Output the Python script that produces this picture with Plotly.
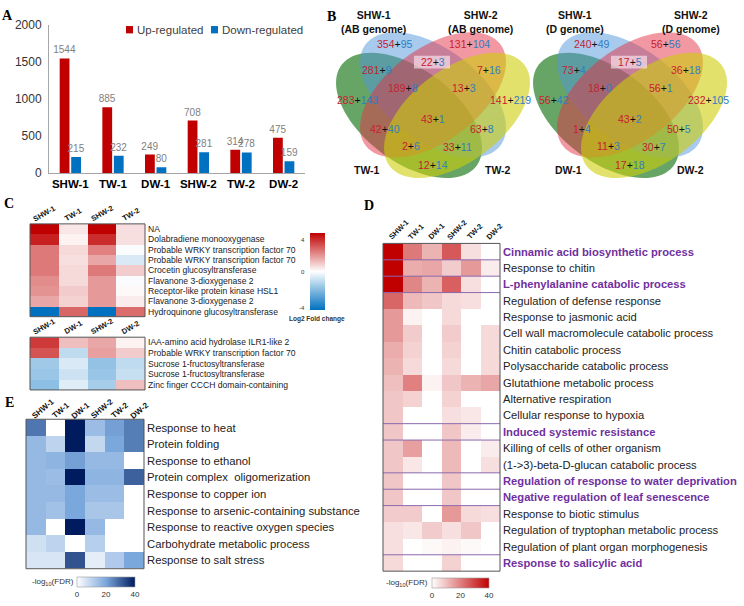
import math
import plotly.graph_objects as go

W, H = 744, 606
def fx(p): return p / W
def fy(p): return 1 - p / H

FONT = "Arial, Liberation Sans, sans-serif"
SERIF = "Times New Roman, Liberation Serif, serif"

# ---------------- Panel A data ----------------
samples = ["SHW-1", "TW-1", "DW-1", "SHW-2", "TW-2", "DW-2"]
up_regulated = [1544, 885, 249, 708, 314, 475]
down_regulated = [215, 232, 80, 281, 278, 159]
a_ticks = [0, 500, 1000, 1500, 2000]

# ---------------- Panel B data ----------------
venn_ab_sets = ["SHW-1<br>(AB genome)", "SHW-2<br>(AB genome)", "TW-1", "TW-2"]
venn_d_sets = ["SHW-1<br>(D genome)", "SHW-2<br>(D genome)", "DW-1", "DW-2"]
venn_ab_up = [354, 131, 22, 281, 7, 189, 13, 283, 141, 43, 42, 63, 2, 33, 12]
venn_ab_down = [95, 104, 3, 9, 16, 8, 3, 143, 219, 1, 40, 8, 6, 11, 14]
venn_d_up = [240, 56, 17, 73, 36, 18, 56, 56, 232, 43, 1, 50, 11, 30, 17]
venn_d_down = [49, 56, 5, 4, 18, 0, 1, 42, 105, 2, 4, 5, 3, 7, 18]

# ---------------- Panel C data ----------------
c1_cols = ["SHW-1", "TW-1", "SHW-2", "TW-2"]
c1_genes = ["NA", "Dolabradiene monooxygenase", "Probable WRKY transcription factor 70",
            "Probable WRKY transcription factor 70", "Crocetin glucosyltransferase",
            "Flavanone 3-dioxygenase 2", "Receptor-like protein kinase HSL1",
            "Flavanone 3-dioxygenase 2", "Hydroquinone glucosyltransferase"]
c1_lfc = [[4.0, 0.4, 4.0, 0.5],
          [3.5, 0.2, 3.3, 0.5],
          [2.1, 0.6, 2.0, -0.1],
          [2.1, 0.5, 1.4, -0.6],
          [2.1, 0.6, 2.1, 0.8],
          [1.8, 0.6, 1.6, -0.1],
          [1.7, 0.8, 1.6, 0.1],
          [1.4, 0.7, 1.6, 0.3],
          [-4.0, 2.4, -4.0, 2.3]]
c2_cols = ["SHW-1", "DW-1", "SHW-2", "DW-2"]
c2_genes = ["IAA-amino acid hydrolase ILR1-like 2", "Probable WRKY transcription factor 70",
            "Sucrose 1-fructosyltransferase", "Sucrose 1-fructosyltransferase",
            "Zinc finger CCCH domain-containing"]
c2_lfc = [[3.1, 1.0, 1.4, 0.2],
          [2.7, -1.0, 1.5, 0.8],
          [-1.5, -0.6, -1.7, -1.0],
          [-1.6, -0.8, -1.6, -0.9],
          [-1.8, -0.5, -1.4, 1.0]]
c_ticks = [4, 0, -4]

# ---------------- Panel D data ----------------
d_terms = ["Cinnamic acid biosynthetic process", "Response to chitin",
           "L-phenylalanine catabolic process", "Regulation of defense response",
           "Response to jasmonic acid", "Cell wall macromolecule catabolic process",
           "Chitin catabolic process", "Polysaccharide catabolic process",
           "Glutathione metabolic process", "Alternative respiration",
           "Cellular response to hypoxia", "Induced systemic resistance",
           "Killing of cells of other organism", "(1->3)-beta-D-glucan catabolic process",
           "Regulation of response to water deprivation", "Negative regulation of leaf senescence",
           "Response to biotic stimulus", "Regulation of tryptophan metabolic process",
           "Regulation of plant organ morphogenesis", "Response to salicylic acid"]
d_highlight = [0, 2, 11, 14, 15, 19]
d_fdr = [[40, 21, 12, 26, 5, 0],
         [40, 13, 14, 8, 16, 3],
         [40, 19, 12, 25, 5, 0],
         [24, 11, 9, 6, 5, 0],
         [16, 2, 0, 6, 0, 0],
         [16, 8, 0, 8, 0, 6],
         [13, 7, 0, 7, 0, 6],
         [12, 6, 0, 6, 0, 6],
         [10, 20, 2, 9, 12, 14],
         [9, 7, 0, 7, 0, 0],
         [9, 0, 0, 5, 4, 0],
         [9, 0, 0, 9, 3, 0],
         [9, 15, 0, 11, 0, 3],
         [9, 4, 0, 11, 0, 5],
         [9, 0, 0, 9, 0, 0],
         [9, 0, 0, 9, 0, 0],
         [8, 8, 0, 16, 6, 5],
         [5, 4, 8, 5, 9, 0],
         [5, 0, 1, 2, 1, 0],
         [6, 0, 0, 7, 0, 0]]

# ---------------- Panel E data ----------------
e_terms = ["Response to heat", "Protein folding", "Response to ethanol",
           "Protein complex  oligomerization", "Response to copper ion",
           "Response to arsenic-containing substance", "Response to reactive oxygen species",
           "Carbohydrate metabolic process", "Response to salt stress"]
e_fdr = [[27, 0, 40, 15, 21, 26],
         [16, 10, 40, 9, 20, 26],
         [16, 17, 21, 16, 16, 0],
         [16, 15, 40, 17, 17, 30],
         [16, 16, 20, 15, 15, 0],
         [16, 14, 20, 13, 13, 0],
         [16, 0, 40, 16, 0, 0],
         [7, 10, 0, 11, 0, 0],
         [6, 6, 32, 4, 12, 20]]
fdr_ticks = [0, 20, 40]

# ======================================================================
fig = go.Figure()
annotations = []
shapes = []

# ---------------- Panel A ----------------
RED, BLUE = "#C00000", "#0070C0"
for vals, col, nm in [(up_regulated, RED, "Up-regulated"), (down_regulated, BLUE, "Down-regulated")]:
    fig.add_trace(go.Bar(x=samples, y=vals, name=nm, marker=dict(color=col, line=dict(width=0)),
                         text=[str(v) for v in vals], textposition="outside", constraintext="none",
                         textfont=dict(size=10, color="#7F7F7F", family=FONT),
                         cliponaxis=False, xaxis="x", yaxis="y", showlegend=False, hoverinfo="skip"))

# manual legend
for (x0, col, label) in [(126, RED, "Up-regulated"), (211, BLUE, "Down-regulated")]:
    shapes.append(dict(type="rect", xref="paper", yref="paper", x0=fx(x0), x1=fx(x0 + 7),
                       y0=fy(27), y1=fy(19.5), fillcolor=col, line=dict(width=0)))
    annotations.append(dict(x=fx(x0 + 8.5), y=fy(23.5), xref="paper", yref="paper", text=label,
                            showarrow=False, xanchor="left", yanchor="middle",
                            font=dict(size=11.5, color="#404040", family=FONT)))

# ---------------- Panel B (Venn) ----------------
venn_region_off = [(-38, 38), (36, 38), (0, 56), (-56, 64), (56, 65), (-30, 83), (31, 83),
                   (-76, 95), (78, 95), (0, 115), (-48, 125), (49, 125), (-22, 142), (24, 143), (0, 162)]
ell_a, ell_b, ell_phi = 85, 47, 38
ellipse_styles = [  # dx, cy, sign of angle, colour, opacity
    (-24, 111, 1, "rgb(45,130,45)", 0.72),
    (0, 90, 1, "rgb(80,150,220)", 0.5),
    (0, 90, -1, "rgb(230,50,70)", 0.5),
    (24, 111, -1, "rgb(205,205,10)", 0.6),
]
VRED, VBLUE = "#C8202F", "#2E7DC3"

def ellipse_path(cx, cy, a, b, phi_deg, n=90):
    ph = math.radians(phi_deg)
    pts = []
    for i in range(n):
        t = 2 * math.pi * i / n
        x = cx + a * math.cos(t) * math.cos(ph) - b * math.sin(t) * math.sin(ph)
        y = cy + a * math.cos(t) * math.sin(ph) + b * math.sin(t) * math.cos(ph)
        pts.append(f"{fx(x):.5f},{fy(y):.5f}")
    return "M " + " L ".join(pts) + " Z"

venns = [
    (433, venn_ab_sets, venn_ab_up, venn_ab_down, [(-60, 0), (47, 0), (-66, 167), (65, 167)]),
    (630, venn_d_sets, venn_d_up, venn_d_down, [(-55, 0), (61, 0), (-62, 167), (60, 167)]),
]
for X, sets, ups, downs, lab_pos in venns:
    for dx, cy, sgn, col, op in ellipse_styles:
        shapes.append(dict(type="path", xref="paper", yref="paper",
                           path=ellipse_path(X + dx, cy, ell_a, ell_b, sgn * ell_phi),
                           fillcolor=col, opacity=op, line=dict(width=0)))
    shapes.append(dict(type="rect", xref="paper", yref="paper", x0=fx(X - 19), x1=fx(X + 17),
                       y0=fy(63), y1=fy(50), fillcolor="rgba(255,240,246,0.6)", line=dict(width=0)))
    for (ox, oy), u, d in zip(venn_region_off, ups, downs):
        txt = (f'<span style="color:{VRED}">{u}</span><span style="color:#111">+</span>'
               f'<span style="color:{VBLUE}">{d}</span>')
        annotations.append(dict(x=fx(X + ox), y=fy(oy), xref="paper", yref="paper", text=txt,
                                showarrow=False, xanchor="center", yanchor="middle",
                                font=dict(size=10.5, family=FONT)))
    for (ox, oy), s in zip(lab_pos, sets):
        annotations.append(dict(x=fx(X + ox), y=fy(oy), xref="paper", yref="paper",
                                text=f"<b>{s}</b>", showarrow=False, xanchor="center",
                                yanchor="top" if oy == 0 else "middle",
                                font=dict(size=10.5, color="#111", family=FONT)))

# ---------------- heatmap helpers ----------------
BOLD_W = {'S': 0.667, 'H': 0.722, 'W': 0.944, 'T': 0.611, 'D': 0.722, '-': 0.333, '1': 0.556, '2': 0.556}
def text_w(s, size):
    return sum(BOLD_W.get(c, 0.6) for c in s) * size

def col_labels(labels, x0, x1, yb, size, angle, mode):
    n = len(labels)
    cw = (x1 - x0) / n
    th = math.radians(angle)
    for i, lab in enumerate(labels):
        cc = x0 + cw * (i + 0.5)
        w = text_w(lab, size)
        h = size * 0.9
        cy = yb - (w * math.sin(th) + h * math.cos(th)) / 2
        cx = cc if mode == "center" else cc + (w * math.cos(th) - h * math.sin(th)) / 2
        annotations.append(dict(x=fx(cx), y=fy(cy), xref="paper", yref="paper", text=f"<b>{lab}</b>",
                                textangle=-angle, showarrow=False, xanchor="center", yanchor="middle",
                                font=dict(size=size, color="#111", family=FONT)))

def frame(ax_id, col="#555555"):
    shapes.append(dict(type="rect", xref=f"x{ax_id} domain", yref=f"y{ax_id} domain",
                       x0=0, x1=1, y0=0, y1=1, line=dict(color=col, width=1), fillcolor="rgba(0,0,0,0)"))

heat_axes = {}
def heat_axes_def(ax_id, xpx, ypx, ncol, nrow, ticktext, fsize, fcolor="#222"):
    heat_axes[f"xaxis{ax_id}"] = dict(domain=[fx(xpx[0]), fx(xpx[1])], anchor=f"y{ax_id}",
                                      range=[-0.5, ncol - 0.5], showticklabels=False, showgrid=False,
                                      zeroline=False, ticks="", showline=False)
    heat_axes[f"yaxis{ax_id}"] = dict(domain=[fy(ypx[1]), fy(ypx[0])], anchor=f"x{ax_id}", side="right",
                                      range=[nrow - 0.5, -0.5], tickvals=list(range(nrow)), ticktext=ticktext,
                                      tickfont=dict(size=fsize, color=fcolor, family=FONT), showgrid=False,
                                      zeroline=False, ticks="", showline=False, ticklabelstandoff=2)

LFC_SCALE = [[0, "#0070C0"], [0.5, "#FFFFFF"], [1, "#C00000"]]
RED_SCALE = [[0, "#FFFFFF"], [1, "#C00000"]]
BLUE_SCALE = [[0, "#FFFFFF"], [0.5, "#7AA7DC"], [1, "#001B5E"]]

# ---------------- Panel C ----------------
fig.add_trace(go.Heatmap(z=c1_lfc, x=list(range(len(c1_cols))), y=list(range(len(c1_genes))),
                         colorscale=LFC_SCALE, zmin=-4, zmax=4, xaxis="x2", yaxis="y2", hoverinfo="skip",
                         colorbar=dict(x=fx(310), xanchor="left", y=fy(310), yanchor="bottom", len=77,
                                       lenmode="pixels", thickness=15, thicknessmode="pixels", outlinewidth=0,
                                       showticklabels=False, ticks="", xpad=0, ypad=0)))
fig.add_trace(go.Heatmap(z=c2_lfc, x=list(range(len(c2_cols))), y=list(range(len(c2_genes))),
                         colorscale=LFC_SCALE, zmin=-4, zmax=4, xaxis="x3", yaxis="y3", hoverinfo="skip",
                         showscale=False))
heat_axes_def(2, (30, 145), (222, 317), 4, 9, c1_genes, 8.6)
heat_axes_def(3, (30, 145), (338, 392), 4, 5, c2_genes, 8.6)
frame(2)
frame(3)
col_labels(c1_cols, 30, 145, 220, 7.5, 30, "center")
col_labels(c2_cols, 30, 145, 336, 7.5, 30, "center")
for v, ypx in zip(c_ticks, [238, 271, 308]):
    annotations.append(dict(x=fx(307), y=fy(ypx), xref="paper", yref="paper", text=str(v), showarrow=False,
                            xanchor="right", yanchor="middle", font=dict(size=6, color="#333", family=FONT)))
annotations.append(dict(x=fx(317), y=fy(319), xref="paper", yref="paper", text="<b>Log2 Fold change</b>",
                        showarrow=False, xanchor="center", yanchor="middle",
                        font=dict(size=6.5, color="#333", family=FONT)))

# ---------------- Panel D ----------------
fig.add_trace(go.Heatmap(z=d_fdr, x=list(range(6)), y=list(range(len(d_terms))),
                         colorscale=RED_SCALE, zmin=0, zmax=40, xaxis="x4", yaxis="y4", hoverinfo="skip",
                         colorbar=dict(orientation="h", x=fx(432), xanchor="left", y=fy(585), yanchor="top",
                                       len=57, lenmode="pixels", thickness=10, thicknessmode="pixels",
                                       outlinewidth=0.6, outlinecolor="#999", tickvals=fdr_ticks, ticks="",
                                       tickfont=dict(size=8, color="#333", family=FONT), xpad=0, ypad=0)))
PURPLE = "#7030A0"
d_ticktext = [f'<b><span style="color:{PURPLE}">{t}</span></b>' if i in d_highlight else t
              for i, t in enumerate(d_terms)]
heat_axes_def(4, (383, 500), (242, 577.5), 6, len(d_terms), d_ticktext, 11.2)
for yb in [0.5, 1.5, 2.5, 10.5, 11.5, 13.5, 14.5, 15.5, 18.5]:
    shapes.append(dict(type="line", xref="x4 domain", yref="y4", x0=0, x1=1, y0=yb, y1=yb,
                       line=dict(color="#8A6AAE", width=1)))
frame(4)
col_labels(samples, 383, 500, 239, 7.5, 45, "start")
annotations.append(dict(x=fx(430), y=fy(590), xref="paper", yref="paper", text="-log<sub>10</sub>(FDR)",
                        showarrow=False, xanchor="right", yanchor="middle",
                        font=dict(size=8, color="#333", family=FONT)))

# ---------------- Panel E ----------------
fig.add_trace(go.Heatmap(z=e_fdr, x=list(range(6)), y=list(range(len(e_terms))),
                         colorscale=BLUE_SCALE, zmin=0, zmax=40, xaxis="x5", yaxis="y5", hoverinfo="skip",
                         colorbar=dict(orientation="h", x=fx(77), xanchor="left", y=fy(583), yanchor="top",
                                       len=58, lenmode="pixels", thickness=10, thicknessmode="pixels",
                                       outlinewidth=0.6, outlinecolor="#999", tickvals=fdr_ticks, ticks="",
                                       tickfont=dict(size=8, color="#333", family=FONT), xpad=0, ypad=0)))
heat_axes_def(5, (26, 144), (422, 575), 6, len(e_terms), e_terms, 11.3)
frame(5)
col_labels(samples, 26, 144, 422, 8, 40, "start")
annotations.append(dict(x=fx(76), y=fy(589), xref="paper", yref="paper", text="-log<sub>10</sub>(FDR)",
                        showarrow=False, xanchor="right", yanchor="middle",
                        font=dict(size=8, color="#333", family=FONT)))

# ---------------- panel letters ----------------
for letter, (px, py) in zip("ABCDE", [(7, 9), (331, 10), (9, 201), (369, 203), (9, 405)]):
    annotations.append(dict(x=fx(px), y=fy(py), xref="paper", yref="paper", text=f"<b>{letter}</b>",
                            showarrow=False, xanchor="center", yanchor="middle",
                            font=dict(size=14, color="#000", family=SERIF)))

layout = dict(
    width=W, height=H, margin=dict(l=0, r=0, t=0, b=0), paper_bgcolor="white", plot_bgcolor="rgba(0,0,0,0)",
    barmode="group", bargap=0.46, bargroupgap=0.15, showlegend=False,
    font=dict(family=FONT),
    xaxis=dict(domain=[fx(49), fx(305)], anchor="y", type="category", showline=True, linecolor="#A6A6A6",
               ticks="", tickvals=samples, ticktext=[f"<b>{s}</b>" for s in samples],
               tickfont=dict(size=11.5, color="black", family=FONT), showgrid=False, zeroline=False),
    yaxis=dict(domain=[fy(170), fy(18)], anchor="x", range=[0, 2000], tickvals=a_ticks, showline=True,
               linecolor="#A6A6A6", ticks="", showgrid=False, zeroline=False,
               tickfont=dict(size=12, color="#333", family=FONT), ticklabelstandoff=4),
    annotations=annotations, shapes=shapes,
)
layout.update(heat_axes)
fig.update_layout(**layout)
fig.write_html("out.html", config={"displayModeBar": False, "staticPlot": True},
               post_script="document.body.style.margin='0px';document.body.style.overflow='hidden';")
